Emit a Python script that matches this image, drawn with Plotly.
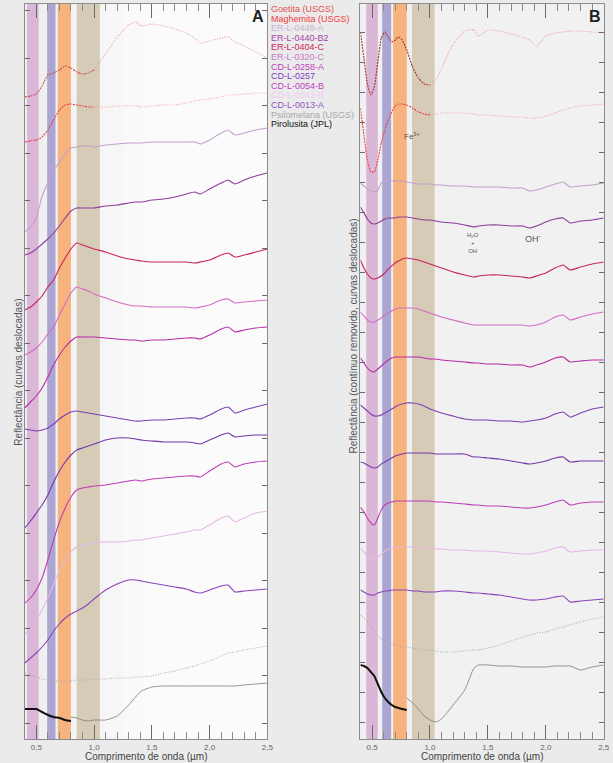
import plotly.graph_objects as go

# ---------------------------------------------------------------------------
# Wavelength grids (µm)
# ---------------------------------------------------------------------------
WAVE_A = [0.40, 0.45, 0.50, 0.55, 0.60, 0.65, 0.70, 0.75, 0.80, 0.85, 0.90, 0.95,
          1.00, 1.10, 1.20, 1.30, 1.36, 1.41, 1.50, 1.60, 1.70, 1.80, 1.87, 1.92,
          2.00, 2.10, 2.16, 2.22, 2.30, 2.40, 2.50]

WAVE_B = [0.40, 0.43, 0.46, 0.49, 0.52, 0.55, 0.58, 0.61, 0.64, 0.67, 0.70, 0.73,
          0.76, 0.80, 0.85, 0.90, 0.95, 1.00, 1.05, 1.10, 1.20, 1.30, 1.38, 1.42,
          1.50, 1.60, 1.70, 1.80, 1.86, 1.92, 2.00, 2.08, 2.15, 2.21, 2.30, 2.40, 2.50]

# Pirolusita was measured with two instruments (VNIR and SWIR parts)
PIRO_WAVE_A_VNIR = [0.40, 0.45, 0.50, 0.55, 0.60, 0.65, 0.70, 0.75, 0.80]
PIRO_WAVE_A_SWIR = [0.80, 0.85, 0.90, 0.95, 1.00, 1.10, 1.20, 1.30, 1.36, 1.41, 1.50,
                    1.60, 1.70, 1.80, 1.87, 1.92, 2.00, 2.10, 2.16, 2.22, 2.30, 2.40, 2.50]
PIRO_WAVE_B_VNIR = [0.40, 0.43, 0.46, 0.49, 0.52, 0.55, 0.58, 0.61, 0.64, 0.67, 0.70,
                    0.73, 0.76, 0.80]
PIRO_WAVE_B_SWIR = [0.80, 0.85, 0.90, 0.95, 1.00, 1.05, 1.10, 1.20, 1.30, 1.38, 1.42,
                    1.50, 1.60, 1.70, 1.80, 1.86, 1.92, 2.00, 2.08, 2.15, 2.21, 2.30,
                    2.40, 2.50]

# ---------------------------------------------------------------------------
# Panel A: reflectance, offset curves (arbitrary units)
# ---------------------------------------------------------------------------
GOETITA_A = [6.42, 6.43, 6.45, 6.53, 6.64, 6.66, 6.69, 6.73, 6.71, 6.67, 6.65, 6.66,
             6.69, 6.85, 7.02, 7.14, 7.17, 7.13, 7.15, 7.13, 7.10, 7.06, 7.01, 6.96,
             6.98, 7.01, 7.02, 6.97, 6.93, 6.87, 6.81]
MAGHEMITA_A = [5.97, 5.98, 5.99, 6.02, 6.09, 6.19, 6.29, 6.34, 6.35, 6.34, 6.33, 6.32,
               6.32, 6.32, 6.33, 6.33, 6.33, 6.32, 6.33, 6.34, 6.34, 6.36, 6.38, 6.39,
               6.40, 6.42, 6.44, 6.44, 6.45, 6.46, 6.46]
ER_0448A_A = [5.07, 5.12, 5.21, 5.43, 5.56, 5.68, 5.77, 5.85, 5.91, 5.92, 5.93, 5.93,
              5.92, 5.94, 5.95, 5.96, 5.96, 5.96, 5.97, 5.97, 5.97, 5.97, 5.97, 5.95,
              5.99, 6.06, 6.09, 6.04, 6.06, 6.09, 6.11]
ER_0440B2_A = [4.84, 4.86, 4.90, 4.95, 5.00, 5.06, 5.13, 5.21, 5.28, 5.31, 5.31, 5.31,
               5.31, 5.33, 5.34, 5.36, 5.37, 5.37, 5.39, 5.40, 5.42, 5.45, 5.47, 5.45,
               5.50, 5.56, 5.59, 5.55, 5.59, 5.63, 5.66]
ER_0404C_A = [4.29, 4.32, 4.37, 4.43, 4.52, 4.59, 4.71, 4.81, 4.90, 4.96, 4.94, 4.92,
              4.90, 4.87, 4.83, 4.80, 4.79, 4.78, 4.77, 4.77, 4.77, 4.77, 4.76, 4.77,
              4.79, 4.84, 4.86, 4.82, 4.84, 4.87, 4.90]
ER_0320C_A = [3.84, 3.87, 3.91, 3.97, 4.05, 4.12, 4.24, 4.35, 4.46, 4.52, 4.50, 4.48,
              4.45, 4.41, 4.37, 4.34, 4.33, 4.33, 4.32, 4.32, 4.32, 4.32, 4.31, 4.32,
              4.34, 4.39, 4.40, 4.36, 4.37, 4.38, 4.39]
CD_0258A_A = [3.31, 3.37, 3.43, 3.51, 3.62, 3.74, 3.84, 3.92, 3.98, 4.02, 4.02, 4.02,
              4.02, 4.01, 4.00, 3.99, 3.99, 3.98, 3.99, 3.99, 4.00, 4.01, 4.01, 4.00,
              4.04, 4.10, 4.12, 4.07, 4.09, 4.11, 4.12]
CD_0257_A = [3.10, 3.09, 3.08, 3.09, 3.11, 3.15, 3.20, 3.24, 3.27, 3.28, 3.27, 3.26,
             3.25, 3.23, 3.21, 3.19, 3.18, 3.18, 3.19, 3.19, 3.20, 3.21, 3.21, 3.20,
             3.24, 3.30, 3.32, 3.26, 3.29, 3.32, 3.35]
CD_EXTRA_A = [2.11, 2.18, 2.26, 2.34, 2.44, 2.57, 2.68, 2.77, 2.84, 2.89, 2.91, 2.93,
              2.95, 2.99, 3.01, 3.01, 3.00, 2.99, 2.98, 2.97, 2.97, 2.97, 2.96, 2.95,
              2.99, 3.04, 3.06, 3.02, 3.03, 3.04, 3.04]
CD_0054B_A = [1.36, 1.41, 1.49, 1.61, 1.79, 1.99, 2.17, 2.31, 2.42, 2.49, 2.51, 2.52,
              2.53, 2.54, 2.56, 2.58, 2.59, 2.58, 2.60, 2.61, 2.62, 2.63, 2.63, 2.62,
              2.68, 2.75, 2.77, 2.72, 2.75, 2.77, 2.78]
CD_0041B_A = [1.05, 1.11, 1.19, 1.29, 1.41, 1.55, 1.68, 1.79, 1.87, 1.92, 1.94, 1.95,
              1.96, 1.97, 1.97, 1.98, 1.99, 1.99, 2.01, 2.03, 2.05, 2.07, 2.09, 2.09,
              2.14, 2.21, 2.23, 2.17, 2.21, 2.26, 2.28]
CD_0013A_A = [0.76, 0.81, 0.86, 0.92, 0.99, 1.08, 1.15, 1.21, 1.25, 1.28, 1.31, 1.35,
              1.40, 1.49, 1.55, 1.59, 1.59, 1.58, 1.56, 1.54, 1.52, 1.50, 1.47, 1.46,
              1.49, 1.53, 1.54, 1.47, 1.48, 1.49, 1.50]
PSILOMELANA_A = [0.66, 0.64, 0.62, 0.60, 0.59, 0.58, 0.58, 0.58, 0.58, 0.59, 0.59, 0.59,
                 0.60, 0.60, 0.61, 0.61, 0.62, 0.62, 0.63, 0.66, 0.68, 0.71, 0.73, 0.75,
                 0.78, 0.83, 0.86, 0.87, 0.89, 0.91, 0.93]
PIROLUSITA_A_VNIR = [0.30, 0.30, 0.30, 0.27, 0.24, 0.22, 0.21, 0.19, 0.18]
PIROLUSITA_A_SWIR = [0.22, 0.21, 0.19, 0.18, 0.19, 0.19, 0.23, 0.34, 0.42, 0.48, 0.52,
                     0.53, 0.53, 0.53, 0.53, 0.53, 0.53, 0.53, 0.53, 0.53, 0.54, 0.55, 0.56]

# ---------------------------------------------------------------------------
# Panel B: continuum-removed reflectance, offset curves
# ---------------------------------------------------------------------------
GOETITA_B = [7.07, 6.81, 6.55, 6.44, 6.52, 6.77, 7.01, 7.07, 7.02, 6.97, 6.99, 7.02,
             6.99, 6.89, 6.72, 6.61, 6.55, 6.54, 6.59, 6.71, 6.95, 7.08, 7.09, 7.03,
             7.09, 7.08, 7.05, 7.02, 6.99, 6.93, 7.03, 7.06, 7.07, 7.08, 7.08, 7.07, 7.06]
MAGHEMITA_B = [6.31, 6.04, 5.79, 5.67, 5.67, 5.79, 5.96, 6.09, 6.19, 6.27, 6.33, 6.35,
               6.35, 6.34, 6.31, 6.27, 6.25, 6.24, 6.25, 6.26, 6.26, 6.26, 6.25, 6.24,
               6.24, 6.23, 6.22, 6.22, 6.21, 6.21, 6.23, 6.26, 6.29, 6.31, 6.33, 6.34, 6.35]
ER_0448A_B = [5.56, 5.53, 5.50, 5.48, 5.47, 5.49, 5.56, 5.58, 5.58, 5.58, 5.58, 5.58,
              5.58, 5.57, 5.56, 5.55, 5.55, 5.55, 5.54, 5.54, 5.53, 5.53, 5.52, 5.52,
              5.52, 5.52, 5.51, 5.51, 5.48, 5.49, 5.52, 5.55, 5.57, 5.52, 5.53, 5.54, 5.56]
ER_0440B2_B = [5.32, 5.26, 5.20, 5.16, 5.15, 5.16, 5.18, 5.20, 5.21, 5.21, 5.21, 5.22,
               5.22, 5.22, 5.21, 5.20, 5.19, 5.19, 5.18, 5.17, 5.16, 5.14, 5.12, 5.13,
               5.14, 5.14, 5.13, 5.13, 5.11, 5.13, 5.17, 5.20, 5.21, 5.16, 5.18, 5.19, 5.21]
ER_0404C_B = [4.79, 4.71, 4.65, 4.61, 4.60, 4.61, 4.63, 4.66, 4.70, 4.73, 4.76, 4.78,
              4.80, 4.81, 4.80, 4.79, 4.77, 4.75, 4.73, 4.71, 4.67, 4.64, 4.62, 4.63,
              4.64, 4.64, 4.63, 4.62, 4.61, 4.63, 4.66, 4.71, 4.74, 4.69, 4.72, 4.75, 4.77]
ER_0320C_B = [4.27, 4.23, 4.19, 4.17, 4.17, 4.19, 4.21, 4.24, 4.26, 4.28, 4.30, 4.31,
              4.31, 4.31, 4.31, 4.30, 4.28, 4.26, 4.24, 4.22, 4.19, 4.16, 4.14, 4.14,
              4.14, 4.14, 4.14, 4.14, 4.13, 4.14, 4.17, 4.22, 4.24, 4.19, 4.22, 4.25, 4.27]
CD_0258A_B = [3.81, 3.76, 3.71, 3.68, 3.67, 3.70, 3.73, 3.76, 3.79, 3.81, 3.82, 3.82,
              3.82, 3.82, 3.82, 3.82, 3.81, 3.80, 3.80, 3.79, 3.78, 3.77, 3.76, 3.76,
              3.75, 3.75, 3.74, 3.74, 3.72, 3.74, 3.77, 3.81, 3.82, 3.77, 3.78, 3.79, 3.79]
CD_0257_B = [3.34, 3.31, 3.28, 3.25, 3.23, 3.23, 3.24, 3.26, 3.28, 3.30, 3.32, 3.34,
             3.35, 3.36, 3.36, 3.35, 3.33, 3.30, 3.28, 3.26, 3.23, 3.20, 3.19, 3.19,
             3.19, 3.18, 3.18, 3.17, 3.18, 3.19, 3.21, 3.25, 3.27, 3.22, 3.26, 3.30, 3.32]
CD_EXTRA_B = [2.77, 2.76, 2.74, 2.72, 2.71, 2.72, 2.75, 2.77, 2.79, 2.81, 2.83, 2.84,
              2.85, 2.86, 2.86, 2.86, 2.86, 2.86, 2.85, 2.85, 2.85, 2.85, 2.82, 2.82,
              2.81, 2.80, 2.78, 2.76, 2.75, 2.76, 2.78, 2.81, 2.82, 2.77, 2.78, 2.78, 2.78]
CD_0054B_B = [2.32, 2.27, 2.21, 2.16, 2.14, 2.21, 2.29, 2.34, 2.36, 2.37, 2.38, 2.38,
              2.38, 2.38, 2.38, 2.38, 2.38, 2.38, 2.37, 2.37, 2.36, 2.35, 2.34, 2.34,
              2.33, 2.33, 2.32, 2.31, 2.31, 2.32, 2.34, 2.37, 2.39, 2.34, 2.36, 2.37, 2.37]
CD_0041B_B = [1.91, 1.87, 1.83, 1.81, 1.80, 1.82, 1.85, 1.88, 1.90, 1.91, 1.92, 1.92,
              1.92, 1.92, 1.92, 1.92, 1.91, 1.91, 1.90, 1.90, 1.89, 1.89, 1.88, 1.88,
              1.88, 1.87, 1.86, 1.85, 1.85, 1.86, 1.88, 1.91, 1.92, 1.87, 1.88, 1.89, 1.89]
CD_0013A_B = [1.49, 1.47, 1.45, 1.44, 1.44, 1.46, 1.47, 1.48, 1.48, 1.49, 1.49, 1.49,
              1.49, 1.49, 1.48, 1.48, 1.47, 1.47, 1.47, 1.48, 1.48, 1.47, 1.46, 1.46,
              1.45, 1.44, 1.42, 1.40, 1.39, 1.39, 1.40, 1.42, 1.43, 1.37, 1.38, 1.39, 1.40]
PSILOMELANA_B = [1.24, 1.21, 1.18, 1.13, 1.08, 1.03, 1.00, 0.98, 0.96, 0.95, 0.94, 0.93,
                 0.92, 0.92, 0.91, 0.90, 0.89, 0.89, 0.88, 0.87, 0.87, 0.88, 0.89, 0.89,
                 0.91, 0.94, 0.98, 1.02, 1.04, 1.06, 1.07, 1.10, 1.12, 1.14, 1.17, 1.20, 1.22]
PIROLUSITA_B_VNIR = [0.74, 0.73, 0.71, 0.67, 0.63, 0.55, 0.47, 0.41, 0.37, 0.34, 0.32,
                     0.31, 0.30, 0.29]
PIROLUSITA_B_SWIR = [0.41, 0.36, 0.30, 0.23, 0.19, 0.17, 0.20, 0.34, 0.49, 0.71, 0.74,
                     0.74, 0.73, 0.73, 0.72, 0.72, 0.72, 0.72, 0.73, 0.73, 0.73, 0.69,
                     0.72, 0.74]

# Legend entries (name, text colour)
LEGEND_NAMES = ["Goetita (USGS)", "Maghemita (USGS)", "ER-L-0448-A", "ER-L-0440-B2",
                "ER-L-0404-C", "ER-L-0320-C", "CD-L-0258-A", "CD-L-0257", "CD-L-0054-B",
                "CD-L-0041-B", "CD-L-0013-A", "Psilomelana (USGS)", "Pirolusita (JPL)"]
LEGEND_COLORS = ["#e0504e", "#f23c3c", "#c9b2d4", "#a546a8", "#d0245a", "#c878c8",
                 "#c23cc0", "#7c3cc4", "#c43cc4", "#f0cdf0", "#9452c4", "#a8a8a8", "#111111"]

# Absorption-feature bands (µm) per panel
BANDS_A = [(0.42, 0.52), (0.594, 0.666), (0.686, 0.80), (0.85, 1.05)]
BANDS_B = [(0.45, 0.55), (0.588, 0.665), (0.682, 0.80), (0.845, 1.04)]
BAND_COLORS = ["rgba(214,172,210,0.85)", "rgba(164,156,206,0.9)",
               "rgba(246,172,112,0.9)", "rgba(210,198,176,0.9)"]

SAMPLE_STYLES = [
    ("#c4a0cc", ER_0448A_A, ER_0448A_B),
    ("#8e3c9c", ER_0440B2_A, ER_0440B2_B),
    ("#c8245e", ER_0404C_A, ER_0404C_B),
    ("#d46cc4", ER_0320C_A, ER_0320C_B),
    ("#b82aa8", CD_0258A_A, CD_0258A_B),
    ("#7c3eb4", CD_0257_A, CD_0257_B),
    ("#7438a8", CD_EXTRA_A, CD_EXTRA_B),
    ("#c03cb8", CD_0054B_A, CD_0054B_B),
    ("#e6b8e6", CD_0041B_A, CD_0041B_B),
    ("#8a44b8", CD_0013A_A, CD_0013A_B),
]

DOTS = "1px,1.5px"
FINE_DOTS = "2px,1px"

fig = go.Figure()


def add_line(x, y, color, axis, width=1.1, dash="solid"):
    fig.add_trace(go.Scatter(
        x=x, y=y, mode="lines", xaxis="x" + axis, yaxis="y" + axis,
        line=dict(color=color, width=width, dash=dash, shape="spline", smoothing=0.5),
        showlegend=False, hoverinfo="skip"))


def split_at(wave, values, cut):
    i = wave.index(cut)
    return (wave[:i + 1], values[:i + 1]), (wave[i:], values[i:])


for axis, wave, goe, mag, psi, pv, ps, pwv, pws, col in [
        ("", WAVE_A, GOETITA_A, MAGHEMITA_A, PSILOMELANA_A, PIROLUSITA_A_VNIR,
         PIROLUSITA_A_SWIR, PIRO_WAVE_A_VNIR, PIRO_WAVE_A_SWIR, 1),
        ("2", WAVE_B, GOETITA_B, MAGHEMITA_B, PSILOMELANA_B, PIROLUSITA_B_VNIR,
         PIROLUSITA_B_SWIR, PIRO_WAVE_B_VNIR, PIRO_WAVE_B_SWIR, 2)]:
    # Goetita: darker VNIR part, lighter SWIR part (dotted USGS spectrum)
    (w1, v1), (w2, v2) = split_at(wave, goe, 1.0)
    add_line(w1, v1, "#cc5050" if col == 1 else "#a83232", axis, 1.1, FINE_DOTS)
    add_line(w2, v2, "#eb9c9c", axis, 1.1, DOTS)
    (w1, v1), (w2, v2) = split_at(wave, mag, 1.0)
    add_line(w1, v1, "#ea4444", axis, 1.1, FINE_DOTS)
    add_line(w2, v2, "#f2a6a6", axis, 1.1, DOTS)
    for color, ya, yb in SAMPLE_STYLES:
        add_line(wave, ya if col == 1 else yb, color, axis, 1.1)
    add_line(wave, psi, "#b0b0b0", axis, 1.1, DOTS)
    add_line(pwv, pv, "#111111", axis, 2.0)
    add_line(pws, ps, "#7a7a7a", axis, 0.8)

# Panel geometry (paper fractions)
W, H = 613, 763
XDOM_A = [25 / W, 270 / W]
XDOM_B = [364 / W, 609.7 / W]
YDOM = [24 / H, 759 / H]

shapes = []
# plot-area backgrounds: panel A fades from light grey on the left to white
shapes.append(dict(type="rect", xref="paper", yref="paper", x0=XDOM_A[0], x1=XDOM_A[1],
                   y0=YDOM[0], y1=YDOM[1], fillcolor="#fbfbfb", line_width=0,
                   layer="below"))
for k in range(6):
    shapes.append(dict(type="rect", xref="paper", yref="paper",
                       x0=XDOM_A[0], x1=(25 + 20 * (k + 1)) / W,
                       y0=YDOM[0], y1=YDOM[1], fillcolor="#dcdcdc", opacity=0.06,
                       line_width=0, layer="below"))
shapes.append(dict(type="rect", xref="paper", yref="paper", x0=XDOM_B[0], x1=XDOM_B[1],
                   y0=YDOM[0], y1=YDOM[1], fillcolor="#f1f1f1", line_width=0,
                   layer="below"))

for xref, bands in [("x", BANDS_A), ("x2", BANDS_B)]:
    for (b0, b1), c in zip(bands, BAND_COLORS):
        shapes.append(dict(type="rect", xref=xref, yref="paper", x0=b0, x1=b1,
                           y0=YDOM[0], y1=YDOM[1], fillcolor=c, line_width=0,
                           layer="below"))

font = "Liberation Sans, Arial, sans-serif"

xaxis_common = dict(
    range=[0.4, 2.5], showline=True, linecolor="#8c8c8c", linewidth=1, mirror="ticks",
    ticks="inside", ticklen=14, tickcolor="#6a6a6a", tickwidth=1,
    tickvals=[0.5, 1.0, 1.5, 2.0, 2.5], ticktext=["0,5", "1,0", "1,5", "2,0", "2,5"],
    tickfont=dict(size=8, color="#666666", family=font),
    minor=dict(dtick=0.1, tick0=0.4, ticks="inside", ticklen=7, tickcolor="#8a8a8a"),
    showgrid=False, zeroline=False, fixedrange=True)

yaxis_common = dict(
    range=[0, 7.35], showline=True, linecolor="#8c8c8c", linewidth=1, mirror="ticks",
    ticks="inside", ticklen=5, tickcolor="#6a6a6a", showticklabels=False,
    showgrid=False, zeroline=False, fixedrange=True)


def note(text, x, y, size, color="#555555", angle=0, xanchor="center", pad=1):
    return dict(text=text, x=x / W, y=1 - y / H, xref="paper", yref="paper",
                xanchor=xanchor, yanchor="middle", showarrow=False, textangle=angle,
                borderpad=pad, font=dict(size=size, color=color, family=font))


annotations = []
for i, (name, c) in enumerate(zip(LEGEND_NAMES, LEGEND_COLORS)):
    annotations.append(note(name, 273, 9 + 9.6 * i, 9, c, xanchor="left", pad=0))

annotations += [
    note("<b>A</b>", 261, 16, 16, "#222222"),
    note("<b>B</b>", 601, 16, 16, "#222222"),
    note("Comprimento de onda (µm)", 147.5, 756, 10, "#444444"),
    note("Comprimento de onda (µm)", 487, 756, 10, "#444444"),
    note("Reflectância (curvas deslocadas)", 18, 372, 10, angle=-90),
    note("Reflectância (contínuo removido, curvas deslocadas)", 356, 336, 10, angle=-90),
    note("Fe<sup>3+</sup>", 416, 136, 8),
    note("H<sub>2</sub>O<br>+<br>OH", 478, 243, 6),
    note("OH<sup>-</sup>", 538, 238, 9),
]

fig.update_layout(
    width=W, height=H, margin=dict(l=0, r=0, t=0, b=0),
    paper_bgcolor="#ebebeb", plot_bgcolor="rgba(0,0,0,0)",
    xaxis=dict(domain=XDOM_A, anchor="y", **xaxis_common),
    yaxis=dict(domain=YDOM, anchor="x", tick0=0.16, dtick=0.475, **yaxis_common),
    xaxis2=dict(domain=XDOM_B, anchor="y2", **xaxis_common),
    yaxis2=dict(domain=YDOM, anchor="x2", tick0=0.17, dtick=0.30, **yaxis_common),
    shapes=shapes, annotations=annotations, showlegend=False,
)

fig.write_html("out.html")
